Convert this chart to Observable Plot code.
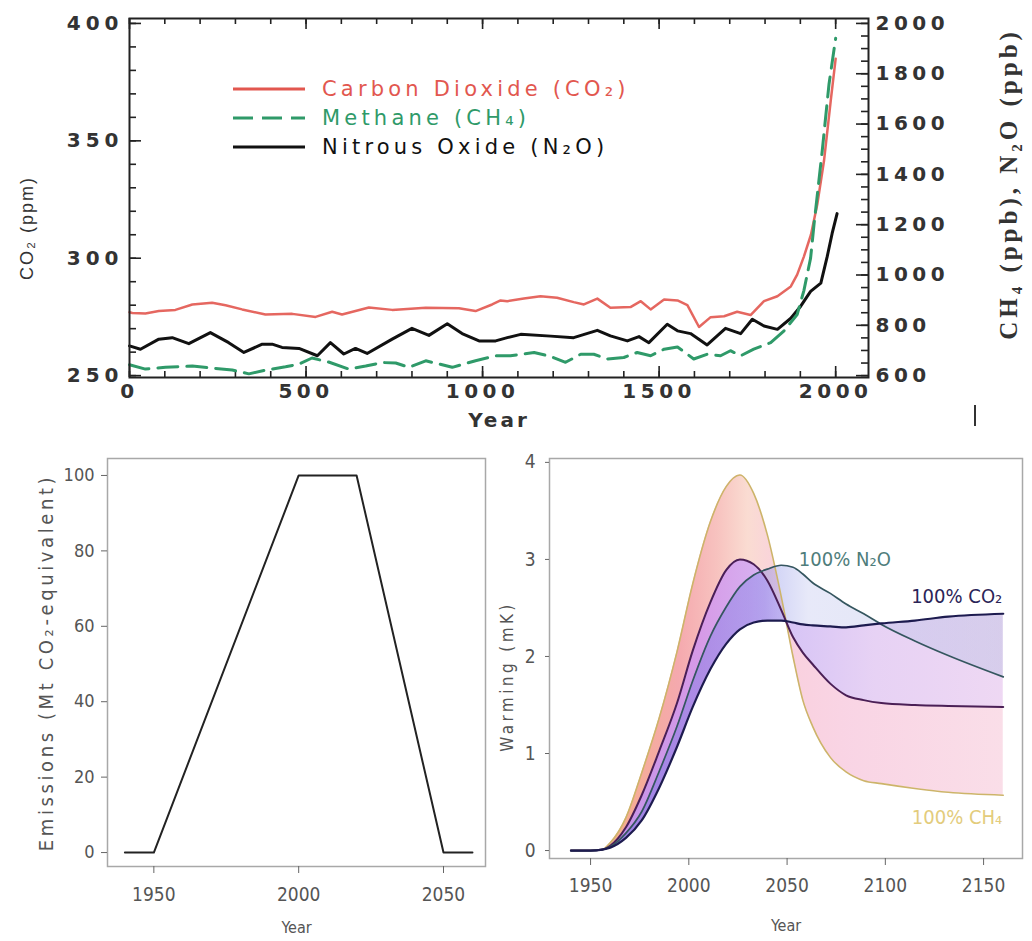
<!DOCTYPE html>
<html>
<head>
<meta charset="utf-8">
<script src="https://cdn.jsdelivr.net/npm/d3@7"></script>
<script src="https://cdn.jsdelivr.net/npm/@observablehq/plot@0.6"></script>
<style>
  body { margin: 0; background: #fff; }
  #wrap { position: relative; width: 1032px; height: 941px; overflow: hidden; background: #fff; }
  #top { position: absolute; left: 0; top: 0; }
  #bl { position: absolute; left: 0; top: 445px; }
  #br { position: absolute; left: 490px; top: 445px; }
  #legend { position: absolute; left: 233px; top: 74px; font-family: "DejaVu Sans", sans-serif; font-size: 21px; letter-spacing: 4.2px; }
  #legend .row { display: flex; align-items: center; height: 29px; white-space: nowrap; }
  #legend .row svg { margin-right: 17px; }
  #mark { position: absolute; left: 974px; top: 405px; width: 2px; height: 21px; background: #333; }
</style>
</head>
<body>
<div id="wrap">
  <div id="top"></div>
  <div id="legend"></div>
  <div id="mark"></div>
  <div id="bl"></div>
  <div id="br"></div>
</div>
<script>
// ---------- Top panel data ----------
const co2Years = [0, 8, 45, 83, 130, 178, 234, 272, 319, 385, 461, 527, 574, 602, 678, 744, 839, 933, 980, 1027, 1051, 1070, 1117, 1164, 1211, 1258, 1287, 1325, 1362, 1419, 1448, 1476, 1514, 1552, 1580, 1613, 1646, 1684, 1721, 1759, 1797, 1835, 1873, 1891, 1910, 1930, 1948, 1967, 1986, 2000];
const co2Ppm   = [277, 276.7, 276.5, 277.5, 278, 280.3, 281, 280, 278.2, 276, 276.3, 275, 277.2, 276, 279, 278, 278.9, 278.7, 277.5, 280.3, 282, 281.7, 282.8, 283.8, 283.2, 281.3, 280.3, 282.8, 278.9, 279.2, 281.7, 278.2, 282.4, 282, 280, 270.7, 274.9, 275.3, 277.2, 275.8, 281.7, 283.8, 288, 293, 300.7, 310, 323, 341.5, 367, 385];

const n2oYears = [0, 31, 83, 121, 168, 229, 281, 324, 376, 404, 432, 480, 532, 569, 607, 640, 673, 744, 800, 848, 900, 942, 990, 1037, 1070, 1108, 1193, 1258, 1325, 1362, 1410, 1443, 1471, 1523, 1552, 1589, 1636, 1688, 1731, 1764, 1797, 1835, 1873, 1901, 1929, 1958, 1976, 1990, 2004];
const n2oPpb   = [718, 705, 745, 751, 727, 771, 731, 692, 725, 725, 712, 708, 679, 731, 686, 708, 688, 745, 788, 760, 806, 767, 738, 738, 751, 764, 757, 751, 780, 758, 738, 755, 731, 804, 778, 767, 722, 788, 767, 824, 797, 784, 828, 876, 935, 968, 1073, 1165, 1244];

const ch4Years = [0, 45, 102, 178, 234, 291, 338, 385, 442, 480, 517, 564, 621, 669, 716, 754, 791, 839, 877, 914, 980, 1037, 1079, 1146, 1193, 1235, 1278, 1315, 1353, 1400, 1438, 1476, 1514, 1552, 1598, 1636, 1674, 1702, 1731, 1768, 1816, 1853, 1891, 1910, 1929, 1939, 1962, 1981, 2000];
const ch4Ppb   = [643, 626, 633, 638, 630, 622, 607, 622, 635, 646, 670, 654, 626, 638, 652, 650, 633, 659, 646, 633, 659, 679, 679, 692, 676, 653, 685, 685, 666, 672, 692, 679, 705, 714, 666, 685, 679, 699, 679, 705, 731, 777, 843, 938, 1067, 1205, 1494, 1757, 1941];

const leftTicks  = [250, 300, 350, 400];
const rightTicks = [600, 800, 1000, 1200, 1400, 1600, 1800, 2000];
const topXTicks  = [0, 500, 1000, 1500, 2000];
const legendItems = [
  {label: "Carbon Dioxide (CO₂)", color: "#e2574f", dash: null},
  {label: "Methane (CH₄)", color: "#2f9a69", dash: "20,9"},
  {label: "Nitrous Oxide (N₂O)", color: "#111111", dash: null}
];

// ---------- Bottom-left: emissions ----------
const emisYears  = [1940, 1950, 2000, 2020, 2050, 2060];
const emisValues = [0, 0, 100, 100, 0, 0];
const emisXTicks = [1950, 2000, 2050];
const emisYTicks = [0, 20, 40, 60, 80, 100];

// ---------- Bottom-right: warming ----------
const warmYears = [1940, 1950, 1956, 1960, 1968, 1976, 1985, 1994, 2002, 2011, 2019, 2026, 2033, 2040, 2047, 2053, 2058, 2063, 2072, 2080, 2089, 2098, 2115, 2132, 2160];
const warmCH4   = [0, 0, 0.01, 0.08, 0.34, 0.80, 1.37, 2.05, 2.75, 3.39, 3.75, 3.87, 3.68, 3.25, 2.62, 2.00, 1.55, 1.28, 0.96, 0.81, 0.72, 0.69, 0.64, 0.60, 0.57];
const warmMix   = [0, 0, 0.01, 0.05, 0.24, 0.57, 1.03, 1.52, 2.06, 2.56, 2.89, 3.00, 2.95, 2.78, 2.48, 2.20, 2.04, 1.92, 1.72, 1.60, 1.55, 1.52, 1.50, 1.49, 1.48];
const warmN2O   = [0, 0, 0.01, 0.04, 0.18, 0.40, 0.82, 1.28, 1.75, 2.21, 2.51, 2.72, 2.84, 2.90, 2.94, 2.92, 2.85, 2.76, 2.65, 2.54, 2.44, 2.33, 2.16, 2.01, 1.79];
const warmCO2   = [0, 0, 0.01, 0.03, 0.13, 0.31, 0.65, 1.07, 1.48, 1.87, 2.13, 2.28, 2.35, 2.37, 2.37, 2.35, 2.33, 2.32, 2.31, 2.30, 2.32, 2.34, 2.37, 2.41, 2.44];
const warmXTicks = [1950, 2000, 2050, 2100, 2150];
const warmYTicks = [0, 1, 2, 3, 4];
const warmLabelsStart = [{year: 2056, value: 3.0, text: "100% N₂O", color: "#4f7d7b"}];
const warmLabelsEnd = [
  {year: 2159.5, value: 2.62, text: "100% CO₂", color: "#2b2457"},
  {year: 2159.5, value: 0.34, text: "100% CH₄", color: "#e3cc7c"}
];

// ---------- tables ----------
const co2 = co2Years.map((year, i) => ({year, v: co2Ppm[i]}));
const n2o = n2oYears.map((year, i) => ({year, v: n2oPpb[i]}));
const ch4 = ch4Years.map((year, i) => ({year, v: ch4Ppb[i]}));
const emis = emisYears.map((year, i) => ({year, v: emisValues[i]}));
const warm = warmYears.map((year, i) => ({year, ch4: warmCH4[i], mix: warmMix[i], n2o: warmN2O[i], co2: warmCO2[i]}));

// right axis (ppb) is linked to the left axis (ppm): 600..2000 ppb <-> 250..400 ppm
const toPpm = ppb => 250 + (ppb - 600) * 150 / 1400;

// helper: letter-spacing for texts (by content)
function spaceTexts(svg, contents, spacing) {
  const set = new Set(contents.map(String));
  d3.select(svg).selectAll("text")
    .filter(function() { return set.has(this.textContent); })
    .style("letter-spacing", spacing);
}

// ---------- TOP PLOT ----------
const W = 1032, H = 430, ML = 129, MR = 164, MT = 18, MB = 53;
const PW = W - ML - MR, PH = H - MT - MB;
const leftMinor = d3.range(250, 401, 10);
const rightMinor = d3.range(600, 2001, 50);
const xMinor = d3.range(0, 2001, 100);
const tickStyle = {stroke: "#222", strokeWidth: 1.6};

const topPlot = Plot.plot({
  width: W, height: H,
  marginLeft: ML, marginRight: MR, marginTop: MT, marginBottom: MB,
  x: {domain: [0, 2093], label: null},
  y: {domain: [249.2, 402.1], label: null},
  style: {fontFamily: "'DejaVu Sans', sans-serif", color: "#222", background: "white", overflow: "visible"},
  marks: [
    Plot.tickY(leftMinor, {y: d => d, insetRight: PW - 7, ...tickStyle}),
    Plot.tickY(leftTicks, {y: d => d, insetRight: PW - 12, ...tickStyle}),
    Plot.tickY(rightMinor, {y: d => toPpm(d), insetLeft: PW - 7, ...tickStyle}),
    Plot.tickY(rightTicks, {y: d => toPpm(d), insetLeft: PW - 12, ...tickStyle}),
    Plot.tickX(xMinor, {x: d => d, insetTop: PH - 6, ...tickStyle}),
    Plot.tickX(topXTicks, {x: d => d, insetTop: PH - 11, ...tickStyle}),
    Plot.tickX(xMinor, {x: d => d, insetBottom: PH - 6, ...tickStyle}),
    Plot.tickX(topXTicks, {x: d => d, insetBottom: PH - 11, ...tickStyle}),
    Plot.line(co2, {x: "year", y: "v", stroke: "#e2574f", strokeWidth: 2.5, strokeOpacity: 0.9}),
    Plot.line(n2o, {x: "year", y: d => toPpm(d.v), stroke: "#111", strokeWidth: 3}),
    Plot.line(ch4, {x: "year", y: d => toPpm(d.v), stroke: "#2f9a69", strokeWidth: 3, strokeDasharray: "20,9"}),
    Plot.frame({stroke: "#222", strokeWidth: 2}),
    Plot.axisY({ticks: leftTicks, tickSize: 0, tickPadding: 6, fontSize: 20, fontWeight: "bold", fill: "#333",
      tickFormat: d => String(d), label: null}),
    Plot.axisX({ticks: topXTicks, tickSize: 0, tickPadding: 6, fontSize: 20, fontWeight: "bold", fill: "#333",
      tickFormat: d => String(d), label: null}),
    Plot.text(rightTicks, {y: d => toPpm(d), text: d => String(d), frameAnchor: "right", dx: 7, textAnchor: "start",
      fontSize: 20, fontWeight: "bold", fill: "#333"}),
    Plot.text(["CO₂ (ppm)"], {text: d => d, frameAnchor: "left", textAnchor: "middle", dx: -102, dy: 30, rotate: -90,
      fontSize: 18, fontFamily: "'Liberation Sans Narrow', 'Liberation Sans', sans-serif", fill: "#333"}),
    Plot.text(["CH₄ (ppb), N₂O (ppb)"], {text: d => d, frameAnchor: "right", textAnchor: "middle", dx: 140, dy: -14, rotate: -90,
      fontSize: 25, fontWeight: "bold", fontFamily: "'Liberation Serif', 'DejaVu Serif', serif", fill: "#333"}),
    Plot.text(["Year"], {text: d => d, frameAnchor: "bottom", textAnchor: "middle", lineAnchor: "middle", dy: 43,
      fontSize: 20, fontWeight: "bold", fill: "#333"})
  ]
});
spaceTexts(topPlot, leftTicks, "5px");
spaceTexts(topPlot, [...topXTicks, ...rightTicks], "4.5px");
spaceTexts(topPlot, ["CH₄ (ppb), N₂O (ppb)"], "4px");
spaceTexts(topPlot, ["CO₂ (ppm)"], "2px");
spaceTexts(topPlot, ["Year"], "3px");
document.getElementById("top").appendChild(topPlot);

// legend (HTML, placed over the plot area)
const legend = d3.select("#legend");
for (const item of legendItems) {
  const row = legend.append("div").attr("class", "row");
  const s = row.append("svg").attr("width", 72).attr("height", 10);
  s.append("line").attr("x1", 0).attr("x2", 72).attr("y1", 5).attr("y2", 5)
    .attr("stroke", item.color).attr("stroke-width", 3)
    .attr("stroke-dasharray", item.dash);
  row.append("span").text(item.label).style("color", item.color);
}

// ---------- BOTTOM-LEFT ----------
const bottomFont = "'DejaVu Sans Condensed', 'Liberation Sans Narrow', 'DejaVu Sans', sans-serif";
const blPlot = Plot.plot({
  width: 490, height: 496,
  marginLeft: 107, marginRight: 5, marginTop: 13, marginBottom: 75,
  x: {domain: [1934, 2064.5], label: null},
  y: {domain: [-3.7, 104.5], label: null},
  style: {fontFamily: bottomFont, color: "#666", background: "white", overflow: "visible"},
  marks: [
    Plot.frame({stroke: "#a8a8a8", strokeWidth: 1.5}),
    Plot.axisX({ticks: emisXTicks, tickSize: 7, tickPadding: 14, fontSize: 19, fill: "#555", tickFormat: d => String(d), label: null}),
    Plot.axisY({ticks: emisYTicks, tickSize: 6, tickPadding: 7, fontSize: 18, fill: "#555", tickFormat: d => String(d), label: null}),
    Plot.line(emis, {x: "year", y: "v", stroke: "#222", strokeWidth: 2}),
    Plot.text(["Year"], {text: d => d, frameAnchor: "bottom", textAnchor: "middle", dy: 66, fontSize: 16, fill: "#555"}),
    Plot.text(["Emissions (Mt CO₂-equivalent)"], {text: d => d, frameAnchor: "left", textAnchor: "middle", dx: -61, rotate: -90,
      fontSize: 20, fill: "#555"})
  ]
});
spaceTexts(blPlot, ["Emissions (Mt CO₂-equivalent)"], "3.6px");
document.getElementById("bl").appendChild(blPlot);

// ---------- BOTTOM-RIGHT ----------
const brPlot = Plot.plot({
  width: 542, height: 496,
  marginLeft: 59, marginRight: 10, marginTop: 13, marginBottom: 83,
  x: {domain: [1929.1, 2169.8], label: null},
  y: {domain: [-0.082, 4.04], label: null},
  style: {fontFamily: bottomFont, color: "#666", background: "white", overflow: "visible"},
  marks: [
    Plot.areaY(warm, {x: "year", y1: "mix", y2: "ch4", fill: "url(#gCh4Mix)", fillOpacity: 0.85, curve: "monotone-x"}),
    Plot.areaY(warm, {x: "year", y1: "co2", y2: "mix", fill: "url(#gMixCo2)", fillOpacity: 0.62, curve: "monotone-x"}),
    Plot.areaY(warm, {x: "year", y1: "co2", y2: "n2o", fill: "url(#gN2oCo2)", fillOpacity: 0.4, curve: "monotone-x"}),
    Plot.frame({stroke: "#a8a8a8", strokeWidth: 1.5}),
    Plot.axisX({ticks: warmXTicks, tickSize: 7, tickPadding: 13, fontSize: 19, fill: "#555", tickFormat: d => String(d), label: null}),
    Plot.axisY({ticks: warmYTicks, tickSize: 4, tickPadding: 10, fontSize: 19, fill: "#555", tickFormat: d => String(d), label: null}),
    Plot.line(warm, {x: "year", y: "ch4", stroke: "#cdb46a", strokeWidth: 1.6, curve: "monotone-x"}),
    Plot.line(warm, {x: "year", y: "mix", stroke: "#4a1f56", strokeWidth: 2, curve: "monotone-x"}),
    Plot.line(warm, {x: "year", y: "n2o", stroke: "#35565f", strokeWidth: 1.7, curve: "monotone-x"}),
    Plot.line(warm, {x: "year", y: "co2", stroke: "#1d1b4f", strokeWidth: 2.2, curve: "monotone-x"}),
    Plot.text(warmLabelsStart, {x: "year", y: "value", text: "text", fill: "color", textAnchor: "start", fontSize: 20}),
    Plot.text(warmLabelsEnd, {x: "year", y: "value", text: "text", fill: "color", textAnchor: "end", fontSize: 20}),
    Plot.text(["Year"], {text: d => d, frameAnchor: "bottom", textAnchor: "middle", dy: 72, fontSize: 16, fill: "#555"}),
    Plot.text(["Warming (mK)"], {text: d => d, frameAnchor: "left", textAnchor: "middle", dx: -42, dy: 18, rotate: -90,
      fontSize: 17, fill: "#555"})
  ]
});
spaceTexts(brPlot, ["Warming (mK)"], "3.4px");

// gradient fills for the bands between the scenario curves (fractions across the 1940–2160 span)
const gradients = {
  gCh4Mix: [[0.07, "#f5a070"], [0.25, "#f39aa0"], [0.34, "#f6b8b4"], [0.41, "#f9d6ca"], [0.49, "#f8c8d8"], [0.64, "#f8cde0"], [1, "#f9d8e4"]],
  gMixCo2: [[0.07, "#9a50dc"], [0.3, "#bd5cd8"], [0.42, "#be7ce6"], [0.5, "#bea0f0"], [0.7, "#d8b6ee"], [1, "#e4c0ec"]],
  gN2oCo2: [[0.07, "#5a60e0"], [0.45, "#7f84e6"], [0.55, "#c4c8f0"], [1, "#b4bde0"]]
};
const defs = d3.select(brPlot).insert("defs", ":first-child");
for (const [id, stops] of Object.entries(gradients)) {
  const g = defs.append("linearGradient").attr("id", id).attr("x1", 0).attr("x2", 1).attr("y1", 0).attr("y2", 0);
  for (const [o, c] of stops) g.append("stop").attr("offset", o).attr("stop-color", c);
}
document.getElementById("br").appendChild(brPlot);
</script>
</body>
</html>
